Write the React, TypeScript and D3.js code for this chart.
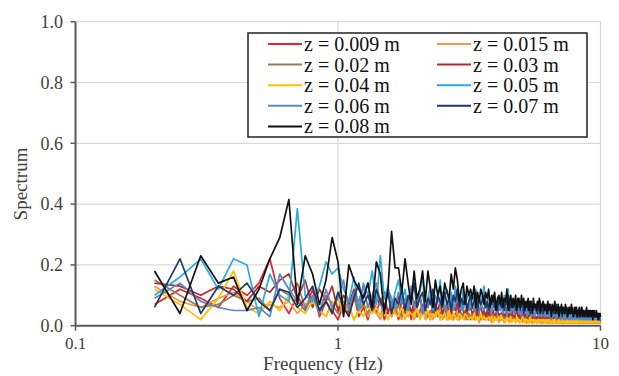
import React from 'react';
import * as d3 from 'd3';

// frequency grid of the spectra (Hz), 0.05 Hz bins from 0.2 to 10
const freq = d3.range(0, 197).map((i) => +(0.2 + i * 0.05).toFixed(2));

const labels = ['z = 0.009 m', 'z = 0.015 m', 'z = 0.02 m', 'z = 0.03 m', 'z = 0.04 m', 'z = 0.05 m', 'z = 0.06 m', 'z = 0.07 m', 'z = 0.08 m'];
const colors = ['#E8232A', '#F79646', '#9C7A54', '#B5282E', '#FFC000', '#29ABE2', '#5B87C5', '#203864', '#111111'];

const z009 = [
  0.07,0.12,0.09,0.06,0.13,0.10,0.14,0.22,0.09,0.04,
  0.10,0.05,0.12,0.03,0.08,0.05,0.02,0.07,0.04,0.10,
  0.03,0.06,0.02,0.08,0.04,0.09,0.02,0.05,0.03,0.07,
  0.02,0.05,0.04,0.08,0.02,0.06,0.03,0.05,0.07,0.03,
  0.04,0.02,0.06,0.03,0.05,0.02,0.04,0.06,0.02,0.04,
  0.05,0.02,0.03,0.06,0.02,0.04,0.03,0.02,0.05,0.03,
  0.02,0.04,0.03,0.02,0.05,0.02,0.03,0.04,0.02,0.03,
  0.03,0.02,0.04,0.02,0.03,0.02,0.04,0.02,0.03,0.02,
  0.02,0.03,0.02,0.04,0.02,0.03,0.02,0.02,0.03,0.02,
  0.03,0.02,0.02,0.03,0.02,0.03,0.02,0.02,0.03,0.02,
  0.02,0.01,0.03,0.02,0.02,0.03,0.01,0.02,0.02,0.03,
  0.01,0.02,0.02,0.03,0.01,0.02,0.02,0.01,0.03,0.02,
  0.02,0.01,0.02,0.02,0.03,0.01,0.02,0.01,0.02,0.02,
  0.01,0.02,0.01,0.02,0.02,0.01,0.03,0.01,0.02,0.01,
  0.02,0.01,0.02,0.01,0.02,0.02,0.01,0.02,0.01,0.02,
  0.01,0.02,0.01,0.02,0.01,0.02,0.01,0.01,0.02,0.01,
  0.02,0.01,0.02,0.01,0.01,0.02,0.01,0.02,0.01,0.01,
  0.01,0.02,0.01,0.01,0.02,0.01,0.02,0.01,0.01,0.02,
  0.01,0.01,0.02,0.01,0.02,0.01,0.01,0.02,0.01,0.01,
  0.02,0.01,0.01,0.02,0.01,0.01,0.02,
];

const z015 = [
  0.13,0.08,0.06,0.09,0.11,0.08,0.05,0.07,0.06,0.08,
  0.04,0.07,0.09,0.05,0.03,0.08,0.06,0.04,0.07,0.02,
  0.05,0.08,0.03,0.06,0.04,0.02,0.07,0.05,0.03,0.06,
  0.04,0.02,0.06,0.03,0.05,0.02,0.04,0.03,0.06,0.02,
  0.03,0.05,0.02,0.04,0.03,0.06,0.02,0.03,0.05,0.02,
  0.04,0.02,0.03,0.05,0.02,0.03,0.04,0.02,0.03,0.02,
  0.03,0.02,0.04,0.02,0.03,0.01,0.03,0.02,0.04,0.02,
  0.02,0.03,0.02,0.01,0.03,0.02,0.02,0.03,0.01,0.02,
  0.03,0.02,0.01,0.02,0.03,0.02,0.01,0.02,0.02,0.03,
  0.02,0.01,0.02,0.03,0.01,0.02,0.02,0.01,0.02,0.02,
  0.01,0.02,0.02,0.01,0.02,0.01,0.02,0.02,0.01,0.02,
  0.02,0.01,0.01,0.02,0.02,0.01,0.02,0.01,0.02,0.01,
  0.01,0.02,0.01,0.02,0.01,0.01,0.02,0.01,0.01,0.02,
  0.02,0.01,0.02,0.01,0.01,0.02,0.01,0.02,0.01,0.01,
  0.01,0.01,0.02,0.01,0.02,0.01,0.01,0.02,0.01,0.02,
  0.02,0.01,0.01,0.02,0.01,0.01,0.02,0.01,0.02,0.01,
  0.01,0.02,0.01,0.01,0.02,0.01,0.01,0.02,0.01,0.01,
  0.01,0.01,0.02,0.01,0.01,0.02,0.01,0.01,0.02,0.01,
  0.02,0.01,0.01,0.01,0.02,0.01,0.02,0.01,0.01,0.01,
  0.01,0.02,0.01,0.01,0.01,0.02,0.01,
];

const z02 = [
  0.15,0.10,0.06,0.07,0.10,0.08,0.09,0.05,0.12,0.10,
  0.14,0.06,0.09,0.05,0.10,0.07,0.04,0.08,0.06,0.09,
  0.05,0.07,0.04,0.08,0.06,0.03,0.07,0.05,0.06,0.04,
  0.07,0.03,0.05,0.06,0.04,0.07,0.03,0.05,0.04,0.06,
  0.03,0.05,0.04,0.06,0.03,0.04,0.05,0.03,0.06,0.04,
  0.05,0.03,0.04,0.02,0.05,0.04,0.03,0.05,0.02,0.04,
  0.03,0.04,0.02,0.05,0.03,0.04,0.02,0.03,0.04,0.03,
  0.04,0.02,0.03,0.04,0.02,0.03,0.04,0.02,0.03,0.02,
  0.03,0.04,0.02,0.03,0.02,0.04,0.03,0.02,0.03,0.02,
  0.02,0.03,0.03,0.02,0.04,0.02,0.03,0.02,0.02,0.03,
  0.03,0.02,0.02,0.03,0.02,0.03,0.02,0.02,0.03,0.02,
  0.02,0.03,0.02,0.02,0.03,0.02,0.01,0.02,0.03,0.02,
  0.02,0.02,0.03,0.01,0.02,0.02,0.03,0.02,0.01,0.02,
  0.03,0.02,0.01,0.02,0.02,0.03,0.01,0.02,0.02,0.01,
  0.02,0.01,0.02,0.02,0.01,0.02,0.02,0.01,0.02,0.02,
  0.01,0.02,0.02,0.01,0.02,0.01,0.02,0.02,0.01,0.02,
  0.02,0.01,0.02,0.01,0.02,0.02,0.01,0.02,0.01,0.02,
  0.01,0.02,0.01,0.02,0.01,0.01,0.02,0.01,0.02,0.01,
  0.02,0.01,0.02,0.01,0.01,0.02,0.01,0.02,0.01,0.01,
  0.01,0.02,0.01,0.02,0.01,0.01,0.02,
];

const z03 = [
  0.14,0.13,0.10,0.13,0.12,0.08,0.13,0.11,0.15,0.17,
  0.09,0.15,0.06,0.12,0.08,0.13,0.05,0.10,0.07,0.12,
  0.06,0.10,0.14,0.05,0.09,0.07,0.11,0.04,0.08,0.06,
  0.10,0.05,0.07,0.09,0.04,0.08,0.06,0.10,0.05,0.07,
  0.06,0.09,0.04,0.07,0.05,0.08,0.04,0.06,0.07,0.05,
  0.04,0.07,0.05,0.08,0.04,0.06,0.05,0.03,0.07,0.05,
  0.06,0.04,0.05,0.07,0.03,0.05,0.06,0.04,0.05,0.03,
  0.05,0.03,0.06,0.04,0.05,0.03,0.04,0.06,0.03,0.04,
  0.04,0.05,0.03,0.04,0.06,0.03,0.04,0.03,0.05,0.03,
  0.03,0.04,0.05,0.03,0.04,0.02,0.04,0.03,0.04,0.03,
  0.04,0.03,0.02,0.04,0.03,0.04,0.02,0.03,0.04,0.02,
  0.03,0.02,0.04,0.03,0.02,0.03,0.04,0.02,0.03,0.02,
  0.02,0.03,0.02,0.03,0.04,0.02,0.03,0.02,0.02,0.03,
  0.03,0.02,0.03,0.02,0.02,0.03,0.02,0.03,0.02,0.02,
  0.02,0.03,0.02,0.02,0.03,0.02,0.02,0.03,0.02,0.02,
  0.03,0.02,0.02,0.03,0.02,0.02,0.03,0.02,0.02,0.03,
  0.02,0.02,0.03,0.02,0.02,0.03,0.02,0.02,0.03,0.02,
  0.02,0.03,0.02,0.02,0.03,0.02,0.02,0.02,0.03,0.02,
  0.02,0.02,0.03,0.02,0.02,0.02,0.03,0.02,0.02,0.02,
  0.03,0.02,0.02,0.02,0.03,0.02,0.02,
];

const z04 = [
  0.12,0.07,0.02,0.09,0.18,0.06,0.04,0.08,0.05,0.10,
  0.06,0.04,0.08,0.05,0.03,0.07,0.09,0.04,0.06,0.02,
  0.05,0.03,0.07,0.04,0.06,0.03,0.05,0.02,0.06,0.04,
  0.03,0.06,0.02,0.05,0.04,0.03,0.06,0.02,0.04,0.03,
  0.05,0.02,0.04,0.03,0.05,0.02,0.03,0.04,0.02,0.05,
  0.02,0.04,0.03,0.02,0.04,0.03,0.02,0.04,0.03,0.02,
  0.03,0.02,0.04,0.02,0.03,0.02,0.04,0.02,0.03,0.02,
  0.02,0.03,0.02,0.03,0.01,0.03,0.02,0.02,0.03,0.02,
  0.03,0.02,0.02,0.01,0.03,0.02,0.02,0.03,0.01,0.02,
  0.02,0.01,0.03,0.02,0.02,0.01,0.02,0.03,0.02,0.01,
  0.02,0.02,0.01,0.02,0.03,0.01,0.02,0.02,0.01,0.02,
  0.01,0.02,0.02,0.01,0.02,0.02,0.01,0.02,0.02,0.01,
  0.02,0.01,0.02,0.02,0.01,0.02,0.01,0.02,0.01,0.02,
  0.01,0.02,0.01,0.01,0.02,0.01,0.02,0.01,0.02,0.01,
  0.02,0.01,0.01,0.02,0.01,0.02,0.01,0.01,0.02,0.01,
  0.01,0.02,0.01,0.01,0.02,0.01,0.01,0.02,0.01,0.01,
  0.02,0.01,0.01,0.02,0.01,0.01,0.02,0.01,0.01,0.02,
  0.01,0.01,0.02,0.01,0.01,0.02,0.01,0.01,0.02,0.01,
  0.01,0.02,0.01,0.01,0.02,0.01,0.01,0.02,0.01,0.01,
  0.02,0.01,0.01,0.02,0.01,0.01,0.01,
];

const z05 = [
  0.10,0.16,0.22,0.12,0.22,0.20,0.03,0.17,0.10,0.08,
  0.385,0.10,0.08,0.13,0.21,0.17,0.19,0.12,0.08,0.16,
  0.05,0.14,0.10,0.18,0.07,0.23,0.09,0.13,0.06,0.11,
  0.15,0.08,0.12,0.05,0.10,0.14,0.07,0.11,0.16,0.06,
  0.09,0.13,0.05,0.10,0.08,0.15,0.06,0.10,0.12,0.07,
  0.11,0.06,0.13,0.08,0.10,0.05,0.12,0.07,0.09,0.11,
  0.06,0.10,0.08,0.12,0.05,0.09,0.07,0.10,0.13,0.06,
  0.08,0.11,0.05,0.09,0.07,0.10,0.06,0.08,0.05,0.09,
  0.07,0.05,0.10,0.06,0.08,0.12,0.05,0.07,0.09,0.06,
  0.05,0.08,0.06,0.09,0.04,0.07,0.06,0.08,0.05,0.07,
  0.06,0.04,0.07,0.05,0.08,0.04,0.06,0.05,0.07,0.04,
  0.05,0.07,0.04,0.06,0.05,0.04,0.07,0.05,0.04,0.06,
  0.04,0.05,0.06,0.03,0.05,0.04,0.06,0.04,0.03,0.05,
  0.05,0.03,0.04,0.06,0.04,0.05,0.03,0.04,0.05,0.03,
  0.04,0.05,0.03,0.04,0.05,0.03,0.04,0.03,0.05,0.04,
  0.03,0.04,0.05,0.03,0.04,0.03,0.04,0.05,0.03,0.04,
  0.04,0.03,0.04,0.02,0.04,0.03,0.05,0.03,0.04,0.03,
  0.03,0.04,0.03,0.04,0.02,0.04,0.03,0.04,0.03,0.02,
  0.04,0.03,0.02,0.04,0.03,0.04,0.02,0.03,0.04,0.03,
  0.02,0.03,0.04,0.02,0.03,0.03,0.02,
];

const z06 = [
  0.09,0.14,0.08,0.06,0.05,0.05,0.06,0.03,0.17,0.12,
  0.08,0.05,0.10,0.04,0.12,0.06,0.09,0.15,0.05,0.11,
  0.08,0.13,0.06,0.10,0.14,0.07,0.05,0.12,0.09,0.06,
  0.11,0.07,0.09,0.05,0.13,0.06,0.08,0.10,0.04,0.09,
  0.06,0.10,0.08,0.05,0.09,0.07,0.11,0.05,0.08,0.06,
  0.09,0.05,0.07,0.10,0.06,0.08,0.05,0.09,0.07,0.05,
  0.08,0.06,0.05,0.09,0.07,0.04,0.08,0.06,0.05,0.08,
  0.05,0.07,0.06,0.04,0.08,0.05,0.07,0.04,0.06,0.05,
  0.07,0.04,0.06,0.05,0.03,0.07,0.05,0.04,0.06,0.05,
  0.04,0.06,0.05,0.07,0.04,0.05,0.03,0.06,0.04,0.05,
  0.05,0.03,0.05,0.04,0.06,0.03,0.05,0.04,0.03,0.05,
  0.04,0.05,0.03,0.04,0.05,0.03,0.04,0.05,0.03,0.04,
  0.03,0.04,0.05,0.03,0.04,0.03,0.02,0.04,0.03,0.04,
  0.04,0.03,0.02,0.04,0.03,0.04,0.03,0.02,0.04,0.03,
  0.03,0.02,0.04,0.03,0.02,0.03,0.04,0.03,0.02,0.03,
  0.02,0.03,0.02,0.04,0.03,0.02,0.03,0.02,0.03,0.04,
  0.03,0.02,0.03,0.02,0.03,0.04,0.02,0.03,0.02,0.03,
  0.02,0.03,0.02,0.03,0.02,0.02,0.03,0.02,0.03,0.02,
  0.03,0.02,0.03,0.02,0.02,0.03,0.02,0.03,0.02,0.02,
  0.02,0.03,0.02,0.02,0.03,0.02,0.02,
];

const z07 = [
  0.06,0.22,0.04,0.13,0.10,0.14,0.08,0.05,0.12,0.11,
  0.06,0.09,0.13,0.05,0.08,0.04,0.11,0.06,0.03,0.09,
  0.14,0.07,0.10,0.05,0.12,0.08,0.06,0.11,0.04,0.09,
  0.07,0.12,0.05,0.10,0.08,0.14,0.06,0.09,0.11,0.05,
  0.09,0.07,0.12,0.05,0.10,0.08,0.06,0.11,0.07,0.09,
  0.05,0.10,0.08,0.12,0.06,0.09,0.07,0.10,0.05,0.08,
  0.10,0.06,0.08,0.11,0.05,0.09,0.07,0.08,0.10,0.06,
  0.08,0.05,0.09,0.07,0.10,0.06,0.08,0.05,0.09,0.07,
  0.06,0.09,0.05,0.08,0.07,0.10,0.05,0.07,0.08,0.06,
  0.08,0.05,0.07,0.06,0.09,0.05,0.07,0.08,0.04,0.07,
  0.06,0.08,0.05,0.07,0.04,0.08,0.06,0.05,0.07,0.06,
  0.07,0.04,0.06,0.05,0.08,0.05,0.06,0.04,0.07,0.05,
  0.05,0.07,0.04,0.06,0.05,0.07,0.04,0.05,0.06,0.04,
  0.06,0.05,0.07,0.04,0.05,0.06,0.04,0.06,0.05,0.03,
  0.05,0.06,0.04,0.05,0.06,0.03,0.05,0.04,0.06,0.04,
  0.04,0.05,0.06,0.03,0.05,0.04,0.05,0.06,0.03,0.05,
  0.05,0.03,0.04,0.05,0.03,0.06,0.04,0.03,0.05,0.04,
  0.04,0.05,0.03,0.04,0.05,0.03,0.04,0.05,0.03,0.04,
  0.03,0.04,0.05,0.03,0.04,0.03,0.05,0.03,0.04,0.03,
  0.04,0.03,0.04,0.03,0.02,0.04,0.03,
];

const z08 = [
  0.18,0.04,0.23,0.14,0.16,0.05,0.12,0.22,0.29,0.415,
  0.07,0.23,0.17,0.07,0.15,0.29,0.21,0.03,0.20,0.15,
  0.12,0.09,0.14,0.06,0.21,0.17,0.04,0.12,0.31,0.19,
  0.19,0.11,0.22,0.14,0.07,0.18,0.09,0.12,0.18,0.08,
  0.18,0.12,0.06,0.15,0.10,0.13,0.07,0.14,0.11,0.09,
  0.17,0.12,0.19,0.15,0.08,0.12,0.14,0.07,0.13,0.10,
  0.12,0.09,0.13,0.06,0.11,0.08,0.12,0.10,0.07,0.11,
  0.09,0.12,0.06,0.10,0.08,0.11,0.05,0.09,0.10,0.07,
  0.11,0.06,0.09,0.08,0.12,0.05,0.08,0.10,0.06,0.09,
  0.07,0.10,0.05,0.09,0.08,0.06,0.10,0.07,0.09,0.05,
  0.08,0.06,0.09,0.05,0.08,0.07,0.04,0.09,0.06,0.07,
  0.05,0.08,0.06,0.09,0.04,0.07,0.06,0.08,0.05,0.07,
  0.06,0.04,0.08,0.05,0.07,0.06,0.03,0.07,0.05,0.06,
  0.08,0.04,0.06,0.05,0.07,0.03,0.06,0.05,0.07,0.04,
  0.06,0.05,0.04,0.07,0.05,0.06,0.03,0.05,0.06,0.04,
  0.05,0.07,0.04,0.05,0.03,0.06,0.05,0.04,0.06,0.03,
  0.05,0.04,0.06,0.03,0.05,0.04,0.06,0.03,0.05,0.04,
  0.03,0.05,0.04,0.06,0.03,0.04,0.05,0.03,0.04,0.05,
  0.04,0.03,0.05,0.02,0.04,0.05,0.03,0.04,0.03,0.05,
  0.03,0.04,0.02,0.04,0.03,0.04,0.03,
];

const series = [z009, z015, z02, z03, z04, z05, z06, z07, z08];
const yTicks = [0, 0.2, 0.4, 0.6, 0.8, 1.0];
const xTicks = [0.1, 1, 10];

const W = 619;
const H = 376;
const font = '"Liberation Serif", "Times New Roman", serif';
const axisColor = '#595959';
const textColor = '#404040';

export default function App() {
  const x = d3.scaleLog().domain([0.1, 10]).range([75.5, 600.5]);
  const y = d3.scaleLinear().domain([0, 1]).range([325.7, 21.7]);

  const line = d3
    .line<[number, number]>()
    .x((d) => x(d[0]))
    .y((d) => y(d[1]));

  const legendX = 248;
  const legendY = 33;
  const colX = [268, 437];
  const rowH = 20.6;

  return (
    <svg width={W} height={H} style={{ position: 'absolute', left: 0, top: 0, background: '#fff' }}>
      {/* grid */}
      {yTicks.filter((t) => t > 0).map((t) => (
        <line key={'gy' + t} x1={x(0.1)} x2={x(10)} y1={y(t)} y2={y(t)} stroke="#d9d9d9" strokeWidth={1.2} />
      ))}
      {xTicks.filter((t) => t > 0.1).map((t) => (
        <line key={'gx' + t} x1={x(t)} x2={x(t)} y1={y(0)} y2={y(1)} stroke="#d9d9d9" strokeWidth={1.2} />
      ))}

      {/* spectra */}
      {series.map((vals, i) => {
        const pts: [number, number][] = vals.slice(0, freq.length).map((v, j) => [freq[j], v]);
        return (
          <path key={labels[i]} d={line(pts) || ''} fill="none" stroke={colors[i]} strokeWidth={1.7} strokeLinejoin="round" />
        );
      })}

      {/* axes */}
      <line x1={x(0.1)} x2={x(0.1)} y1={y(0)} y2={y(1)} stroke={axisColor} strokeWidth={2} />
      <line x1={x(0.1)} x2={x(10)} y1={y(0)} y2={y(0)} stroke={axisColor} strokeWidth={2} />
      {yTicks.map((t) => (
        <g key={'yt' + t}>
          <line x1={x(0.1) - 5} x2={x(0.1)} y1={y(t)} y2={y(t)} stroke={axisColor} strokeWidth={1.5} />
          <text x={63} y={y(t)} dy="0.35em" textAnchor="end" fontFamily={font} fontSize={18} fill={textColor}>
            {d3.format('.1f')(t)}
          </text>
        </g>
      ))}
      {xTicks.map((t) => (
        <g key={'xt' + t}>
          <line x1={x(t)} x2={x(t)} y1={y(0)} y2={y(0) + 5} stroke={axisColor} strokeWidth={1.5} />
          <text x={x(t)} y={349} textAnchor="middle" fontFamily={font} fontSize={17} fill={textColor}>
            {String(t)}
          </text>
        </g>
      ))}
      <text x={323} y={370} textAnchor="middle" fontFamily={font} fontSize={19} fill={textColor}>
        Frequency (Hz)
      </text>
      <text
        transform="translate(27,184) rotate(-90)"
        textAnchor="middle"
        fontFamily={font}
        fontSize={19}
        fill={textColor}
      >
        Spectrum
      </text>

      {/* legend */}
      <rect x={legendX} y={legendY} width={339} height={104} fill="#fff" stroke="#222" strokeWidth={1.5} />
      {labels.map((lab, i) => {
        const cx = colX[i % 2];
        const cy = legendY + 11 + Math.floor(i / 2) * rowH;
        return (
          <g key={'lg' + lab}>
            <line x1={cx} x2={cx + 34} y1={cy} y2={cy} stroke={colors[i]} strokeWidth={2} />
            <text x={cx + 36} y={cy} dy="0.35em" fontFamily={font} fontSize={20} fill="#111">
              {lab}
            </text>
          </g>
        );
      })}
    </svg>
  );
}
